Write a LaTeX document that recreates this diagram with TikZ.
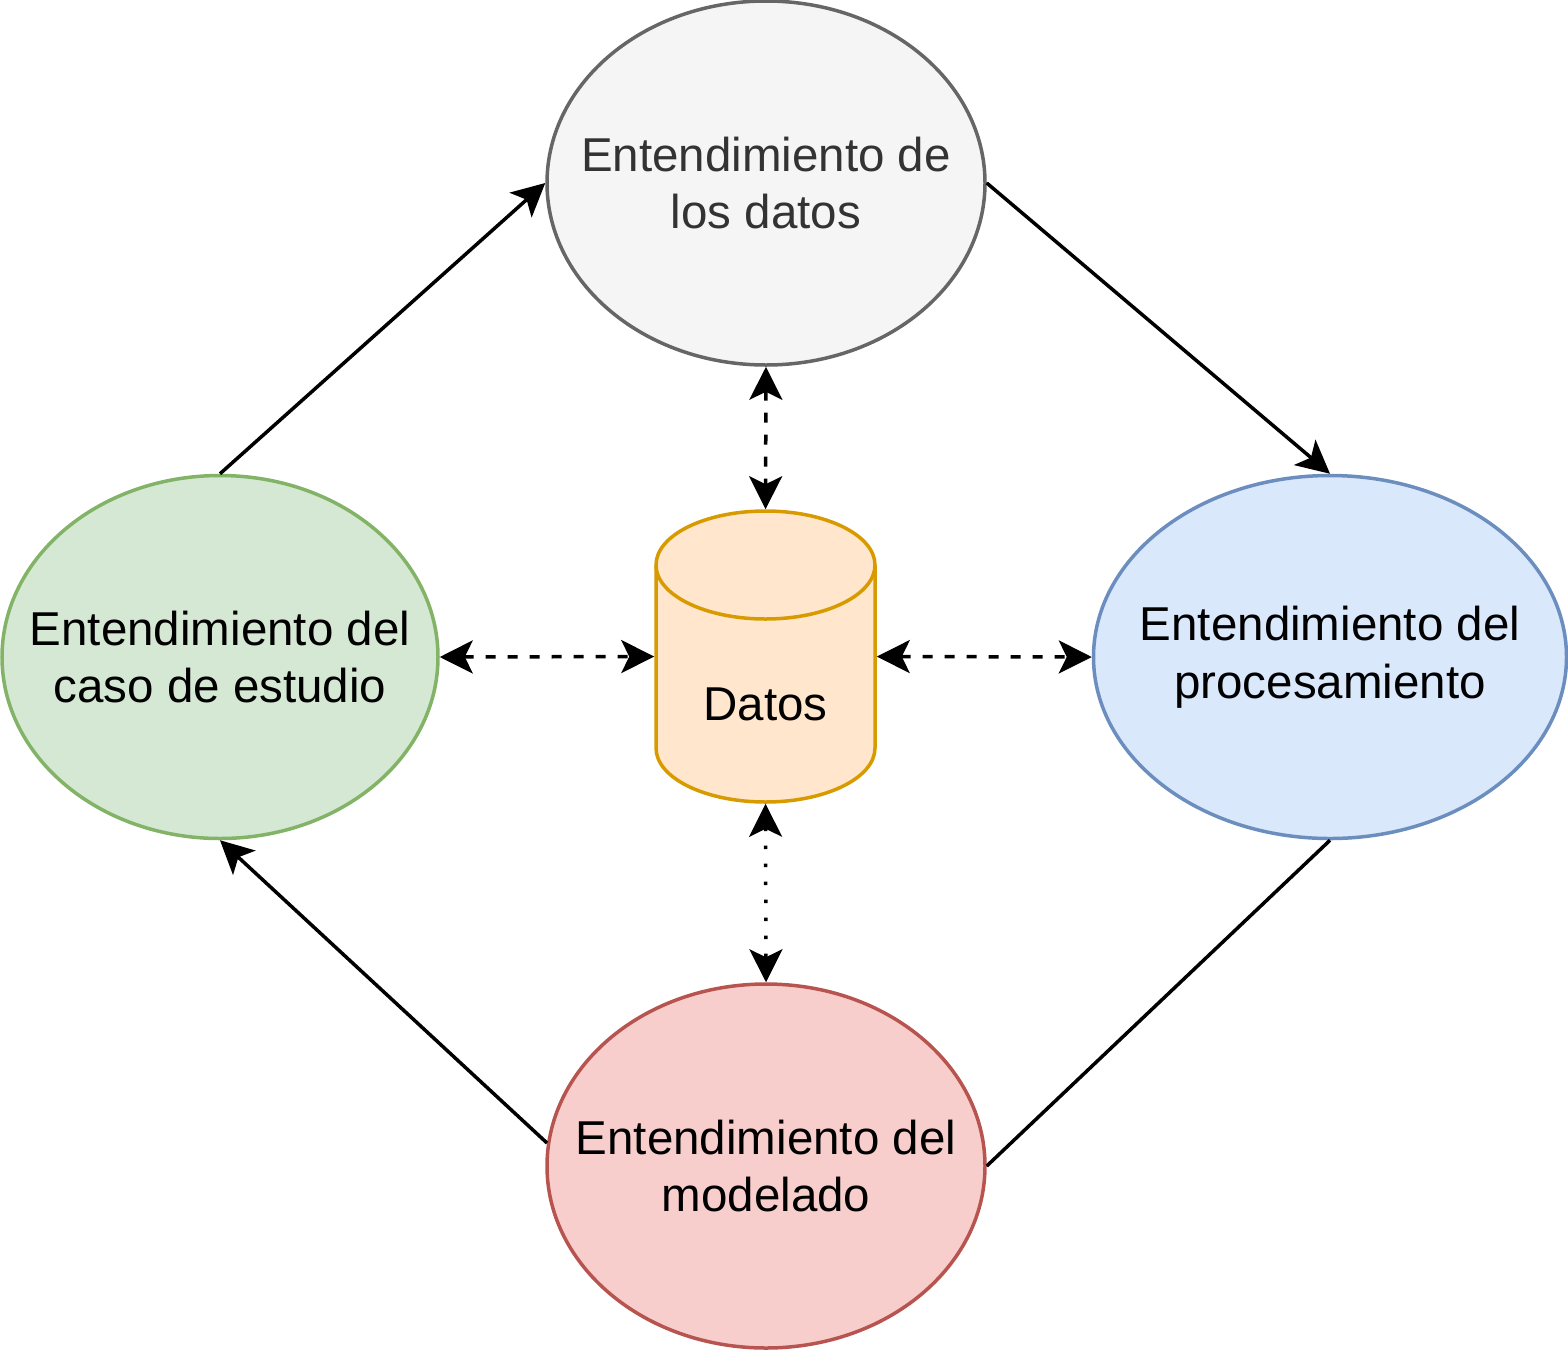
\documentclass[tikz,border=0pt]{standalone}
\usepackage{fontspec}
\setmainfont{Liberation Sans}
\usetikzlibrary{shapes.geometric,arrows.meta}
\definecolor{topfill}{HTML}{F5F5F5}\definecolor{topline}{HTML}{666666}\definecolor{toptext}{HTML}{333333}
\definecolor{grfill}{HTML}{D5E8D4}\definecolor{grline}{HTML}{82B366}
\definecolor{blfill}{HTML}{DAE8FC}\definecolor{blline}{HTML}{6C8EBF}
\definecolor{rdfill}{HTML}{F8CECC}\definecolor{rdline}{HTML}{B85450}
\definecolor{orfill}{HTML}{FFE6CC}\definecolor{orline}{HTML}{D79B00}
\begin{document}
\begin{tikzpicture}[x=1pt,y=-1pt,
  phase/.style={ellipse, line width=3.5pt, inner sep=0pt},
  txt/.style={align=center, font=\fontsize{47.5}{57.5}\selectfont},
  tipx/.tip={Stealth[length=33pt,width=33pt,inset=8pt]},
  flow/.style={line width=3.5pt, -tipx},
  link/.style={line width=3.5pt, tipx-tipx, dash pattern=on 10pt off 12pt},
  dotlink/.style={line width=3.5pt, tipx-tipx, dash pattern=on 3.5pt off 14.5pt}
]
\useasboundingbox (0,0) rectangle (1568,1350);
\node[phase, draw=topline, fill=topfill, minimum width=438pt, minimum height=364pt,
  label={[txt, text=toptext]center:Entendimiento de\\los datos}] (top) at (766,183) {};
\node[phase, draw=grline, fill=grfill, minimum width=436pt, minimum height=363pt,
  label={[txt]center:Entendimiento del\\caso de estudio}] (left) at (220,657) {};
\node[phase, draw=blline, fill=blfill, minimum width=473pt, minimum height=363pt,
  label={[txt]center:Entendimiento del\\procesamiento}] (right) at (1330,657) {};
\node[phase, draw=rdline, fill=rdfill, minimum width=438pt, minimum height=364pt,
  label={[txt]center:Entendimiento del\\modelado}] (bot) at (766,1166) {};
% cylinder
\draw[line width=3.5pt, draw=orline, fill=orfill]
  (656,565) -- (656,748) arc[start angle=180, end angle=360, x radius=109.5pt, y radius=54pt]
  -- (875,565) arc[start angle=0, end angle=180, x radius=109.5pt, y radius=54pt] -- cycle;
\draw[line width=3.5pt, draw=orline] (656,565) arc[start angle=180, end angle=360, x radius=109.5pt, y radius=54pt];
\node[minimum width=219pt, minimum height=291pt, inner sep=0pt, outer sep=1.75pt] (cyl) at (765.5,656.5) {};
\node[txt] (datos) at (765.5,704) {Datos};
% connectors
\draw[flow] (left.north) -- (top.west);
\draw[flow] (top.east) -- (right.north);
\draw[line width=3.5pt] (right.south) -- (bot.east);
\draw[flow] (bot.174) -- (left.south);
\draw[link] (top.south) -- (cyl.north);
\draw[link] (left.east) -- (cyl.west);
\draw[link] (cyl.east) -- (right.west);
\draw[dotlink] (cyl.south) -- (bot.north);
\end{tikzpicture}
\end{document}
